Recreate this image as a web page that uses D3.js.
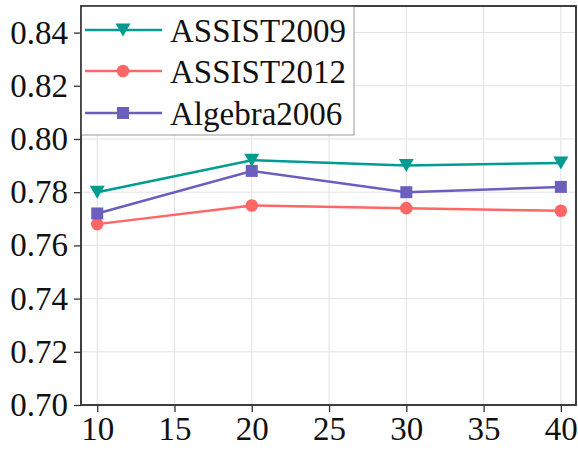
<!DOCTYPE html>
<html><head><meta charset="utf-8">
<script src="https://cdn.jsdelivr.net/npm/d3@7"></script>
<style>body{margin:0;background:#fff}svg{display:block}
svg text{font-family:"Liberation Serif","Times New Roman",Times,serif !important;}</style>
</head><body><svg id="c" width="578" height="450"></svg>
<script>
const xValues = [10, 20, 30, 40];
const seriesNames = ["ASSIST2009", "ASSIST2012", "Algebra2006"];
const assist2009 = [0.780, 0.792, 0.790, 0.791];
const assist2012 = [0.768, 0.775, 0.774, 0.773];
const algebra2006 = [0.772, 0.788, 0.780, 0.782];
const xTicks = [10, 15, 20, 25, 30, 35, 40];
const yTicks = [0.70, 0.72, 0.74, 0.76, 0.78, 0.80, 0.82, 0.84];
const colors = ["#009B91", "#FF6666", "#6A5FBF"];
const symbols = ["tri", "circle", "square"];

const svg = d3.select("#c");
const L = 81, R = 576, T = 6, B = 405;
const x = d3.scaleLinear().domain([8.95, 40.98]).range([L, R]);
const y = d3.scaleLinear().domain([0.70, 0.85]).range([B, T]);

// grid
svg.append("g").selectAll("line").data(xTicks).join("line")
  .attr("x1", d => x(d)).attr("x2", d => x(d)).attr("y1", T).attr("y2", B)
  .attr("stroke", "#e2e2e2").attr("stroke-width", 1);
svg.append("g").selectAll("line").data(yTicks).join("line")
  .attr("x1", L).attr("x2", R).attr("y1", d => y(d)).attr("y2", d => y(d))
  .attr("stroke", "#e2e2e2").attr("stroke-width", 1);

// axes
const xAxis = svg.append("g").attr("transform", `translate(0,${B})`)
  .call(d3.axisBottom(x).tickValues(xTicks).tickSize(7).tickPadding(5).tickFormat(d3.format("d")));
const yAxis = svg.append("g").attr("transform", `translate(${L},0)`)
  .call(d3.axisLeft(y).tickValues(yTicks).tickSize(7).tickPadding(6).tickFormat(d3.format(".2f")));
[xAxis, yAxis].forEach(g => {
  g.select(".domain").remove();
  g.attr("font-family", null).attr("font-size", null);
  g.selectAll(".tick line").attr("stroke", "#333").attr("stroke-width", 1.3);
  g.selectAll("text").style("font-size", "33px").attr("fill", "#111");
});

// frame
svg.append("rect").attr("x", L).attr("y", T).attr("width", R - L).attr("height", B - T)
  .attr("fill", "none").attr("stroke", "#333").attr("stroke-width", 1.5);

function drawMarker(g, type, cx, cy, color) {
  if (type === "circle") {
    g.append("circle").attr("cx", cx).attr("cy", cy).attr("r", 6.3).attr("fill", color);
  } else if (type === "square") {
    g.append("rect").attr("x", cx - 6).attr("y", cy - 6).attr("width", 12).attr("height", 12).attr("fill", color);
  } else {
    g.append("path").attr("d", `M${cx-7.5},${cy-6.5} L${cx+7.5},${cy-6.5} L${cx},${cy+6.5} Z`).attr("fill", color);
  }
}

const allSeries = [assist2009, assist2012, algebra2006];
const line = d3.line().x((d, i) => x(xValues[i])).y(d => y(d));
[1, 2, 0].forEach(si => {
  const g = svg.append("g");
  g.append("path").attr("d", line(allSeries[si])).attr("fill", "none")
    .attr("stroke", colors[si]).attr("stroke-width", 2.5);
  allSeries[si].forEach((v, i) => drawMarker(g, symbols[si], x(xValues[i]), y(v), colors[si]));
});

// legend
const lg = svg.append("g");
lg.append("rect").attr("x", L).attr("y", T).attr("width", 354 - L).attr("height", 135 - T)
  .attr("fill", "#fff").attr("stroke", "#999").attr("stroke-width", 1);
const rowY = [30, 71, 113];
seriesNames.forEach((n, i) => {
  lg.append("line").attr("x1", 85).attr("x2", 162).attr("y1", rowY[i]).attr("y2", rowY[i])
    .attr("stroke", colors[i]).attr("stroke-width", 2.5);
  drawMarker(lg, symbols[i], 123, rowY[i], colors[i]);
  lg.append("text").attr("x", 170).attr("y", rowY[i]).attr("dy", "0.35em")
    .style("font-size", "33px").attr("fill", "#111").text(n);
});
svg.append("rect").attr("x", L).attr("y", T).attr("width", R - L).attr("height", B - T)
  .attr("fill", "none").attr("stroke", "#333").attr("stroke-width", 1.5);
</script></body></html>
